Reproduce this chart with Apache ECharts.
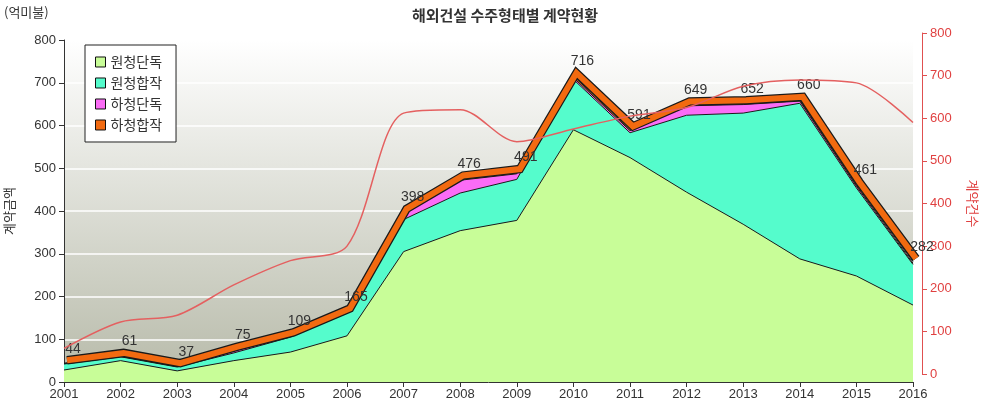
<!DOCTYPE html>
<html>
<head>
<meta charset="utf-8">
<script src="https://cdn.jsdelivr.net/npm/echarts@6/dist/echarts.min.js"></script>
<style>
html,body{margin:0;padding:0;background:#fff;}
#chart{width:981px;height:407px;}
</style>
</head>
<body>
<div id="chart"></div>
<script>
// 해외건설 수주형태별 계약현황
const years=["2001","2002","2003","2004","2005","2006","2007","2008","2009","2010","2011","2012","2013","2014","2015","2016"];

const primeSolo=[28,50,26,50,70,108,305,354,378,590,525,444,369,288,248,180];
const primeJoint=[14,9,9,18,35,53,75,88,96,118,58,180,260,364,206,95];
const subSolo=[1,1,1,5,2,2,15,30,13,4,5,22,20,5,4,3];
const subJoint=[1,1,1,2,2,2,3,4,4,4,3,3,3,3,3,4];

const totals=[44,61,37,75,109,165,398,476,491,716,591,649,652,660,461,282];
const contracts=[60,122,138,209,266,300,612,620,545,575,605,625,675,690,683,590];

const yTicks=[0,100,200,300,400,500,600,700,800];

const font="'Liberation Sans','Noto Sans CJK KR',sans-serif";
const krFont="'Noto Sans CJK KR','Liberation Sans',sans-serif";

const chart=echarts.init(document.getElementById("chart"));

function areaSeries(name,data,color){
    return {
        name:name,
        type:"line",
        stack:"amount",
        xAxisIndex:0,
        yAxisIndex:0,
        data:data,
        symbol:"none",
        lineStyle:{color:"#1a1a1a",width:1},
        areaStyle:{color:color,opacity:1},
        itemStyle:{color:color,borderColor:"#111",borderWidth:1},
        z:2
    };
}

chart.setOption({
    animation:false,
    backgroundColor:"#fff",
    title:{
        text:"해외건설 수주형태별 계약현황",
        left:500,
        textAlign:"center",
        top:3,
        textStyle:{fontFamily:krFont,fontSize:15,fontWeight:"bold",color:"#333"}
    },
    graphic:[
        {type:"text",left:4,top:6,style:{text:"(억미불)",font:"13px "+krFont,fill:"#333"}}
    ],
    legend:{
        data:["원청단독","원청합작","하청단독","하청합작"],
        orient:"vertical",
        left:85,
        top:45,
        itemWidth:10,
        itemHeight:10,
        itemGap:7,
        padding:[10,14,10,10],
        backgroundColor:"#fff",
        borderColor:"#222",
        borderWidth:1,
        icon:"rect",
        itemStyle:{borderColor:"#111",borderWidth:1},
        textStyle:{fontFamily:krFont,fontSize:14,color:"#333"}
    },
    grid:[
        {left:64,right:68,top:40,bottom:25,show:true,borderWidth:0,outerBoundsMode:"none",
            backgroundColor:new echarts.graphic.LinearGradient(0,0,0,1,[
                {offset:0,color:"#ffffff"},
                {offset:1,color:"#b7baa9"}
            ])},
        {left:64,right:68,top:33,bottom:33,outerBoundsMode:"none"},
        {left:67,right:65,top:37,bottom:28,outerBoundsMode:"none"}
    ],
    xAxis:[
        {
            type:"category",gridIndex:0,data:years,boundaryGap:false,
            axisLine:{lineStyle:{color:"#333"}},
            axisTick:{length:5,lineStyle:{color:"#333"}},
            axisLabel:{fontFamily:font,fontSize:13,color:"#333",margin:6},
            splitLine:{show:false}
        },
        {type:"category",gridIndex:1,data:years,boundaryGap:false,show:false},
        {type:"category",gridIndex:2,data:years,boundaryGap:false,show:false}
    ],
    yAxis:[
        {
            type:"value",gridIndex:0,min:0,max:800,interval:100,
            name:"계약금액",nameLocation:"middle",nameGap:48,nameRotate:90,
            nameTextStyle:{fontFamily:krFont,fontSize:13,color:"#333"},
            axisLine:{show:true,lineStyle:{color:"#333"}},
            axisTick:{show:true,length:5,lineStyle:{color:"#333"}},
            axisLabel:{fontFamily:font,fontSize:13,color:"#333",margin:8,
                formatter:v=>yTicks.includes(v)?String(v):""},
            splitLine:{show:true,lineStyle:{color:"#ffffff",width:1.5}}
        },
        {
            type:"value",gridIndex:1,min:0,max:800,interval:100,position:"right",offset:9,
            name:"계약건수",nameLocation:"middle",nameGap:44,nameRotate:-90,
            nameTextStyle:{fontFamily:krFont,fontSize:13,color:"#e04040"},
            axisLine:{show:true,lineStyle:{color:"#e05050"}},
            axisTick:{show:true,length:5,lineStyle:{color:"#e05050"}},
            axisLabel:{fontFamily:font,fontSize:13,color:"#e04040",margin:8},
            splitLine:{show:false}
        },
        {type:"value",gridIndex:2,min:0,max:800,show:false}
    ],
    series:[
        areaSeries("원청단독",primeSolo,"#c8fd98"),
        areaSeries("원청합작",primeJoint,"#55fccc"),
        areaSeries("하청단독",subSolo,"#fb6cf6"),
        areaSeries("하청합작",subJoint,"#f26a10"),
        {
            name:"band-outline",
            type:"line",
            xAxisIndex:2,yAxisIndex:2,
            data:totals,
            symbol:"none",
            lineStyle:{color:"#1a1a1a",width:8.5,join:"miter"},
            z:3,
            silent:true
        },
        {
            name:"합계",
            type:"line",
            xAxisIndex:2,yAxisIndex:2,
            data:totals,
            symbol:"circle",
            symbolSize:1,
            showSymbol:true,
            itemStyle:{color:"rgba(0,0,0,0)"},
            lineStyle:{color:"#f26a10",width:6,join:"miter"},
            label:{show:true,position:"top",distance:4,padding:[0,0,0,12],
                fontFamily:font,fontSize:14,color:"#333"},
            labelLayout:{hideOverlap:false},
            z:4,
            silent:true
        },
        {
            name:"계약건수",
            type:"line",
            xAxisIndex:1,yAxisIndex:1,
            data:contracts,
            smooth:0.3,
            symbol:"none",
            lineStyle:{color:"#e46060",width:1.5},
            z:5
        }
    ]
});
</script>
</body>
</html>
